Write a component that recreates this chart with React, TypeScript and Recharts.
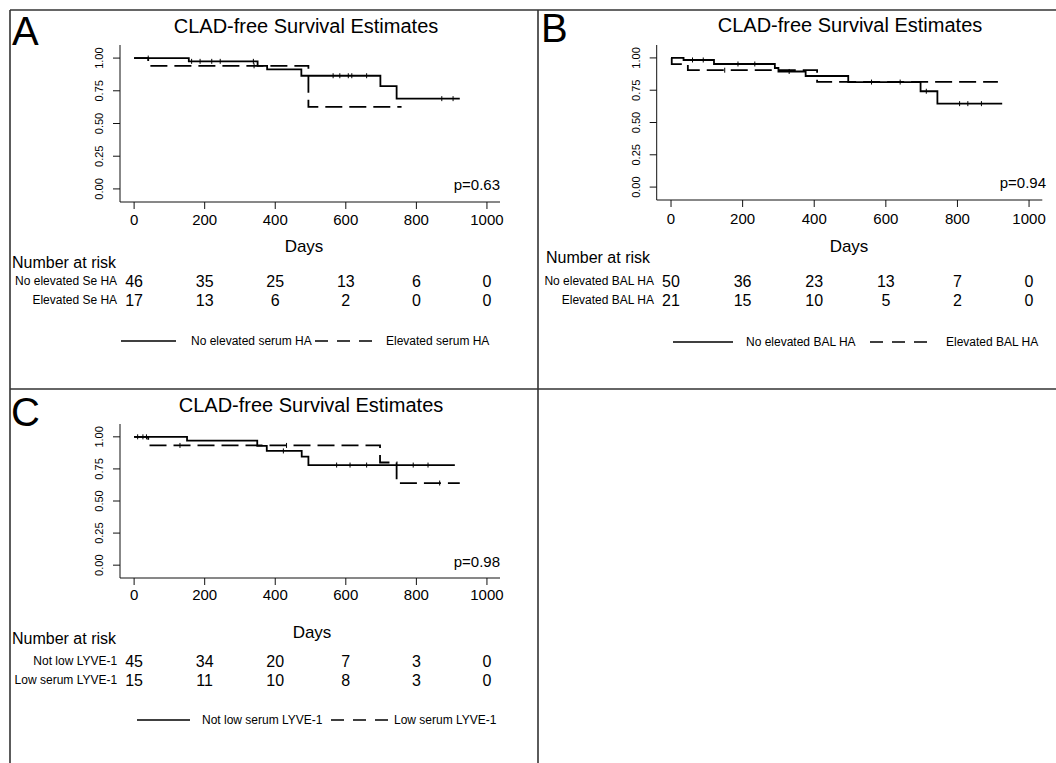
import React from "react";
import { ComposedChart, Line, Scatter, XAxis, YAxis } from "recharts";

type Pt = { t: number; s: number };

const FONT = '"Liberation Sans", Arial, Helvetica, sans-serif';

const X_TICKS = [0, 200, 400, 600, 800, 1000];
const Y_TICKS = [0, 0.25, 0.5, 0.75, 1];

// panel A: serum HA
const noElevSeHA: Pt[] = [
  { t: 0, s: 1 }, { t: 155, s: 0.975 }, { t: 350, s: 0.94 }, { t: 377, s: 0.913 },
  { t: 474, s: 0.865 }, { t: 698, s: 0.785 }, { t: 744, s: 0.69 }, { t: 923, s: 0.69 },
];
const elevSeHA: Pt[] = [
  { t: 0, s: 1 }, { t: 40, s: 0.941 }, { t: 494, s: 0.627 }, { t: 758, s: 0.627 },
];
const noElevSeHACens: Pt[] = [
  { t: 40, s: 1 }, { t: 163, s: 0.975 }, { t: 187, s: 0.975 }, { t: 220, s: 0.975 },
  { t: 244, s: 0.975 }, { t: 338, s: 0.975 }, { t: 564, s: 0.865 }, { t: 583, s: 0.865 },
  { t: 607, s: 0.865 }, { t: 617, s: 0.865 }, { t: 659, s: 0.865 }, { t: 872, s: 0.69 },
  { t: 904, s: 0.69 },
];
const elevSeHACens: Pt[] = [{ t: 340, s: 0.941 }];
const riskNoElevSeHA = [46, 35, 25, 13, 6, 0];
const riskElevSeHA = [17, 13, 6, 2, 0, 0];

// panel B: BAL HA
const noElevBalHA: Pt[] = [
  { t: 0, s: 1 }, { t: 35, s: 0.984 }, { t: 120, s: 0.953 }, { t: 290, s: 0.922 },
  { t: 300, s: 0.895 }, { t: 376, s: 0.86 }, { t: 495, s: 0.813 }, { t: 697, s: 0.742 },
  { t: 744, s: 0.646 }, { t: 925, s: 0.646 },
];
const elevBalHA: Pt[] = [
  { t: 0, s: 1 }, { t: 2, s: 0.952 }, { t: 47, s: 0.905 }, { t: 408, s: 0.815 },
  { t: 913, s: 0.815 },
];
const noElevBalHACens: Pt[] = [
  { t: 60, s: 0.984 }, { t: 90, s: 0.984 }, { t: 187, s: 0.953 }, { t: 234, s: 0.953 },
  { t: 330, s: 0.895 }, { t: 560, s: 0.813 }, { t: 640, s: 0.813 }, { t: 713, s: 0.742 },
  { t: 806, s: 0.646 }, { t: 829, s: 0.646 }, { t: 867, s: 0.646 },
];
const elevBalHACens: Pt[] = [{ t: 150, s: 0.905 }];
const riskNoElevBalHA = [50, 36, 23, 13, 7, 0];
const riskElevBalHA = [21, 15, 10, 5, 2, 0];

// panel C: serum LYVE-1
const notLowLyve: Pt[] = [
  { t: 0, s: 1 }, { t: 150, s: 0.971 }, { t: 349, s: 0.93 }, { t: 376, s: 0.89 },
  { t: 475, s: 0.846 }, { t: 494, s: 0.78 }, { t: 909, s: 0.78 },
];
const lowLyve: Pt[] = [
  { t: 0, s: 1 }, { t: 40, s: 0.933 }, { t: 697, s: 0.8 }, { t: 744, s: 0.64 },
  { t: 923, s: 0.64 },
];
const notLowLyveCens: Pt[] = [
  { t: 10, s: 1 }, { t: 25, s: 1 }, { t: 35, s: 1 }, { t: 423, s: 0.89 },
  { t: 574, s: 0.78 }, { t: 612, s: 0.78 }, { t: 659, s: 0.78 }, { t: 791, s: 0.78 },
  { t: 833, s: 0.78 },
];
const lowLyveCens: Pt[] = [{ t: 130, s: 0.933 }, { t: 432, s: 0.933 }, { t: 866, s: 0.64 }];
const riskNotLowLyve = [45, 34, 20, 7, 3, 0];
const riskLowLyve = [15, 11, 10, 8, 3, 0];

const DASH = "17 7";

const censorShape = (p: any) => (
  <line x1={p.cx} x2={p.cx} y1={p.cy - 2.5} y2={p.cy + 2.5} stroke="#000" strokeWidth={1} />
);

type Offs = { tick: number; r1: number; r2: number };

function makeXTick(rows: number[][], labels: string[], off: Offs) {
  return (props: any) => {
    const { x, y, payload } = props;
    const ay = y - 7;
    const i = X_TICKS.indexOf(payload.value);
    const common = { fontFamily: FONT, fill: "#000", dominantBaseline: "central" as const };
    return (
      <g>
        <text x={x} y={ay + off.tick} textAnchor="middle" fontSize={15} {...common}>
          {payload.value}
        </text>
        <text x={x} y={ay + off.r1} textAnchor="middle" fontSize={16} {...common}>
          {rows[0][i]}
        </text>
        <text x={x} y={ay + off.r2} textAnchor="middle" fontSize={16} {...common}>
          {rows[1][i]}
        </text>
        {i === 0 && (
          <>
            <text x={x - 17} y={ay + off.r1} textAnchor="end" fontSize={12} {...common}>
              {labels[0]}
            </text>
            <text x={x - 17} y={ay + off.r2} textAnchor="end" fontSize={12} {...common}>
              {labels[1]}
            </text>
          </>
        )}
      </g>
    );
  };
}

const YTick = (props: any) => {
  const { x, y, payload } = props;
  const cx = x - 14;
  return (
    <text
      x={cx}
      y={y}
      transform={`rotate(-90, ${cx}, ${y})`}
      textAnchor="middle"
      dominantBaseline="central"
      fontSize={11}
      fontFamily={FONT}
      fill="#000"
    >
      {payload.value.toFixed(2)}
    </text>
  );
};

type PanelProps = {
  x: number; y: number; w: number; h: number;
  yAxisW: number; mTop: number; mRight: number; xAxisH: number;
  solid: Pt[]; dashed: Pt[]; solidCens: Pt[]; dashedCens: Pt[];
  rows: number[][]; labels: string[]; off: Offs;
};

function KmPanel(p: PanelProps) {
  return (
    <div style={{ position: "absolute", left: p.x, top: p.y }}>
      <ComposedChart
        width={p.w}
        height={p.h}
        margin={{ top: p.mTop, right: p.mRight, left: 0, bottom: 0 }}
      >
        <XAxis
          type="number"
          dataKey="t"
          domain={[-40, 1037]}
          ticks={X_TICKS}
          interval={0}
          allowDataOverflow
          height={p.xAxisH}
          tickSize={7}
          tickMargin={0}
          axisLine={{ stroke: "#111" }}
          tickLine={{ stroke: "#111" }}
          tick={makeXTick(p.rows, p.labels, p.off)}
        />
        <YAxis
          type="number"
          domain={[-0.1, 1.1]}
          ticks={Y_TICKS}
          interval={0}
          allowDataOverflow
          width={p.yAxisW}
          tickSize={7}
          tickMargin={0}
          axisLine={{ stroke: "#111" }}
          tickLine={{ stroke: "#111" }}
          tick={YTick}
        />
        <Line data={p.dashed} dataKey="s" type="stepAfter" stroke="#000" strokeWidth={1.8}
          strokeDasharray={DASH} dot={false} isAnimationActive={false} />
        <Line data={p.solid} dataKey="s" type="stepAfter" stroke="#000" strokeWidth={1.8}
          dot={false} isAnimationActive={false} />
        <Scatter data={p.solidCens} dataKey="s" shape={censorShape} isAnimationActive={false} />
        <Scatter data={p.dashedCens} dataKey="s" shape={censorShape} isAnimationActive={false} />
      </ComposedChart>
    </div>
  );
}

type Deco = {
  letter: string; letterX: number; letterY: number;
  titleX: number; titleY: number;
  daysX: number; daysY: number;
  p: string; pX: number; pY: number;
  narX: number; narY: number;
  legY: number; s1: number; s2: number; t1X: number; d1: number; d2: number; t2X: number;
  leg1: string; leg2: string;
};

const decos: Deco[] = [
  {
    letter: "A", letterX: 12, letterY: 45, titleX: 306, titleY: 26, daysX: 304, daysY: 246,
    p: "p=0.63", pX: 500, pY: 184, narX: 12, narY: 262,
    legY: 341, s1: 121, s2: 176, t1X: 191, d1: 315, d2: 372, t2X: 386,
    leg1: "No elevated serum HA", leg2: "Elevated serum HA",
  },
  {
    letter: "B", letterX: 541, letterY: 42, titleX: 850, titleY: 25, daysX: 849, daysY: 246,
    p: "p=0.94", pX: 1046, pY: 182, narX: 546, narY: 257,
    legY: 342, s1: 673, s2: 733, t1X: 746, d1: 870, d2: 928, t2X: 946,
    leg1: "No elevated BAL HA", leg2: "Elevated BAL HA",
  },
  {
    letter: "C", letterX: 11, letterY: 426, titleX: 311, titleY: 405, daysX: 312, daysY: 632,
    p: "p=0.98", pX: 500, pY: 561, narX: 12, narY: 638,
    legY: 720, s1: 137, s2: 190, t1X: 202, d1: 331, d2: 390, t2X: 394,
    leg1: "Not low serum LYVE-1", leg2: "Low serum LYVE-1",
  },
];

export default function App() {
  return (
    <div
      style={{
        position: "absolute", left: 0, top: 0, width: 1056, height: 763,
        overflow: "hidden", background: "#fff", fontFamily: FONT,
      }}
    >
      <KmPanel
        x={10} y={10} w={528} h={379} yAxisW={110} mTop={35} mRight={38} xAxisH={187}
        solid={noElevSeHA} dashed={elevSeHA} solidCens={noElevSeHACens} dashedCens={elevSeHACens}
        rows={[riskNoElevSeHA, riskElevSeHA]} labels={["No elevated Se HA", "Elevated Se HA"]}
        off={{ tick: 17, r1: 79, r2: 98 }}
      />
      <KmPanel
        x={538} y={10} w={518} h={379} yAxisW={118.7} mTop={35} mRight={13.7} xAxisH={189}
        solid={noElevBalHA} dashed={elevBalHA} solidCens={noElevBalHACens} dashedCens={elevBalHACens}
        rows={[riskNoElevBalHA, riskElevBalHA]} labels={["No elevated BAL HA", "Elevated BAL HA"]}
        off={{ tick: 18, r1: 81, r2: 100 }}
      />
      <KmPanel
        x={10} y={389} w={528} h={374} yAxisW={110} mTop={35} mRight={38} xAxisH={185}
        solid={notLowLyve} dashed={lowLyve} solidCens={notLowLyveCens} dashedCens={lowLyveCens}
        rows={[riskNotLowLyve, riskLowLyve]} labels={["Not low LYVE-1", "Low serum LYVE-1"]}
        off={{ tick: 16, r1: 83, r2: 102 }}
      />
      <svg
        width={1056}
        height={763}
        style={{ position: "absolute", left: 0, top: 0, pointerEvents: "none" }}
        fontFamily={FONT}
      >
        <g stroke="#333" strokeWidth={1.6}>
          <line x1={10} y1={10} x2={1056} y2={10} />
          <line x1={10} y1={10} x2={10} y2={763} />
          <line x1={538} y1={10} x2={538} y2={763} />
          <line x1={10} y1={389} x2={1056} y2={389} />
        </g>
        {decos.map((d) => (
          <g key={d.letter} fill="#000">
            <text x={d.letterX} y={d.letterY} fontSize={40}>{d.letter}</text>
            <text x={d.titleX} y={d.titleY} fontSize={20} textAnchor="middle" dominantBaseline="central">
              CLAD-free Survival Estimates
            </text>
            <text x={d.daysX} y={d.daysY} fontSize={17} textAnchor="middle" dominantBaseline="central">
              Days
            </text>
            <text x={d.pX} y={d.pY} fontSize={15} textAnchor="end" dominantBaseline="central">
              {d.p}
            </text>
            <text x={d.narX} y={d.narY} fontSize={16} dominantBaseline="central">
              Number at risk
            </text>
            <line x1={d.s1} x2={d.s2} y1={d.legY} y2={d.legY} stroke="#000" strokeWidth={1.6} />
            <line x1={d.d1} x2={d.d2} y1={d.legY} y2={d.legY} stroke="#000" strokeWidth={1.6}
              strokeDasharray="13 9" />
            <text x={d.t1X} y={d.legY} fontSize={12} dominantBaseline="central">{d.leg1}</text>
            <text x={d.t2X} y={d.legY} fontSize={12} dominantBaseline="central">{d.leg2}</text>
          </g>
        ))}
      </svg>
    </div>
  );
}
